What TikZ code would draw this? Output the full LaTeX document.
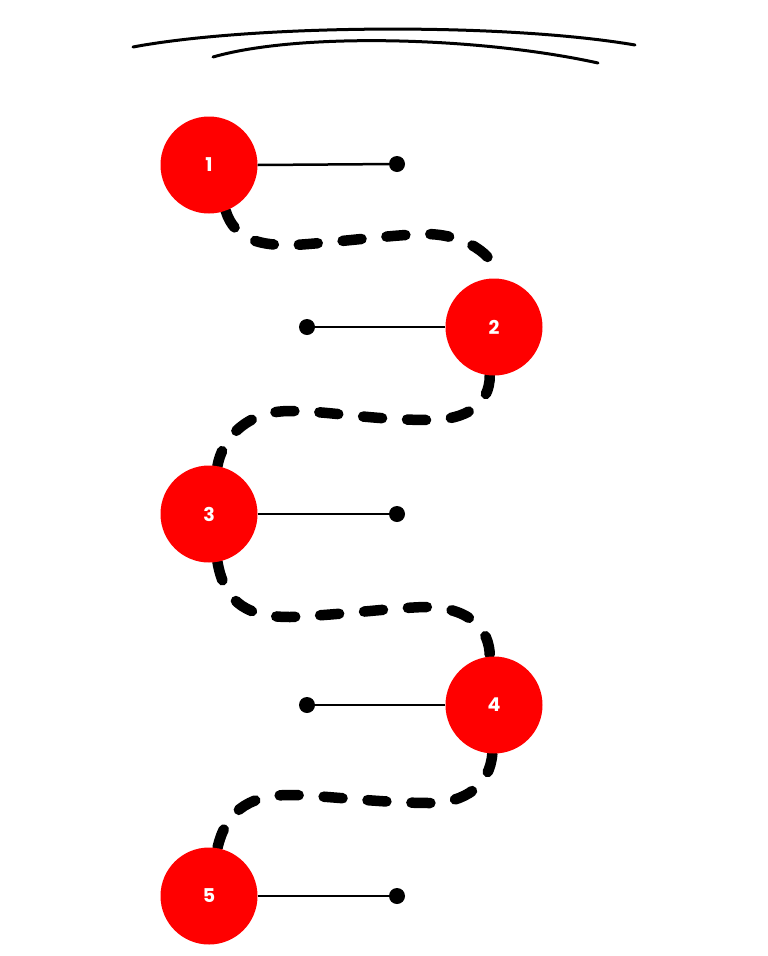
\documentclass[tikz,border=0pt]{standalone}
\usepackage{fontspec}
\setmainfont{Poppins}
\usepackage{tikz}
\usetikzlibrary{backgrounds}
\usepackage{xcolor}
\definecolor{stepred}{RGB}{255,0,0}
\definecolor{pathblack}{RGB}{0,0,0}

\begin{document}
\begin{tikzpicture}[x=1pt,y=-1pt,line join=round,
    stepnode/.style={circle,fill=stepred,minimum size=97pt,inner sep=0pt,
      text=white,font=\fontsize{19}{19}\selectfont\bfseries},
    enddot/.style={circle,fill=pathblack,minimum size=16pt,inner sep=0pt},
    leader/.style={pathblack,line width=2.5pt},
    trail/.style={pathblack,line width=10.5pt,line cap=round,
      dash pattern=on 19pt off 25pt}]
  \useasboundingbox (0,0) rectangle (768,956);
  \draw[pathblack,line width=3pt,line cap=round] (133,47) .. controls (250,25) and (500,22) .. (635,45);
  \draw[pathblack,line width=3pt,line cap=round] (213,57) .. controls (300,32) and (480,37) .. (598,63);
  \node[stepnode] (c1) at (209,165){1};
  \node[stepnode] (c2) at (494,327){2};
  \node[stepnode] (c3) at (209,514){3};
  \node[stepnode] (c4) at (494,705){4};
  \node[stepnode] (c5) at (209,896){5};
  \node[enddot] (d1) at (397,164){};
  \node[enddot] (d2) at (307,327){};
  \node[enddot] (d3) at (397,514){};
  \node[enddot] (d4) at (307,705){};
  \node[enddot] (d5) at (397,896){};
  \begin{scope}[on background layer]
    \draw[trail] (c1.-70) .. controls (235,240) and (260,246) .. (295,245)
      .. controls (340,242) and (390,235) .. (425,234)
      .. controls (465,234) and (496,255) .. (c2.85);
    \draw[trail] (c2.-95) .. controls (490,405) and (465,420) .. (430,420)
      .. controls (370,420) and (330,411) .. (290,411)
      .. controls (245,411) and (222,440) .. (c3.80);
    \draw[trail] (c3.-80) .. controls (225,605) and (250,617) .. (290,617)
      .. controls (340,615) and (390,608) .. (425,607)
      .. controls (470,607) and (490,630) .. (c4.95);
    \draw[trail] (c4.-92) .. controls (490,785) and (465,803) .. (430,803)
      .. controls (380,803) and (320,795) .. (290,795)
      .. controls (245,795) and (225,815) .. (c5.80);
  \end{scope}
  \draw[leader] (c1.east) -- (d1);
  \draw[leader] (c2.west) -- (d2);
  \draw[leader] (c3.east) -- (d3);
  \draw[leader] (c4.west) -- (d4);
  \draw[leader] (c5.east) -- (d5);
\end{tikzpicture}
\end{document}
